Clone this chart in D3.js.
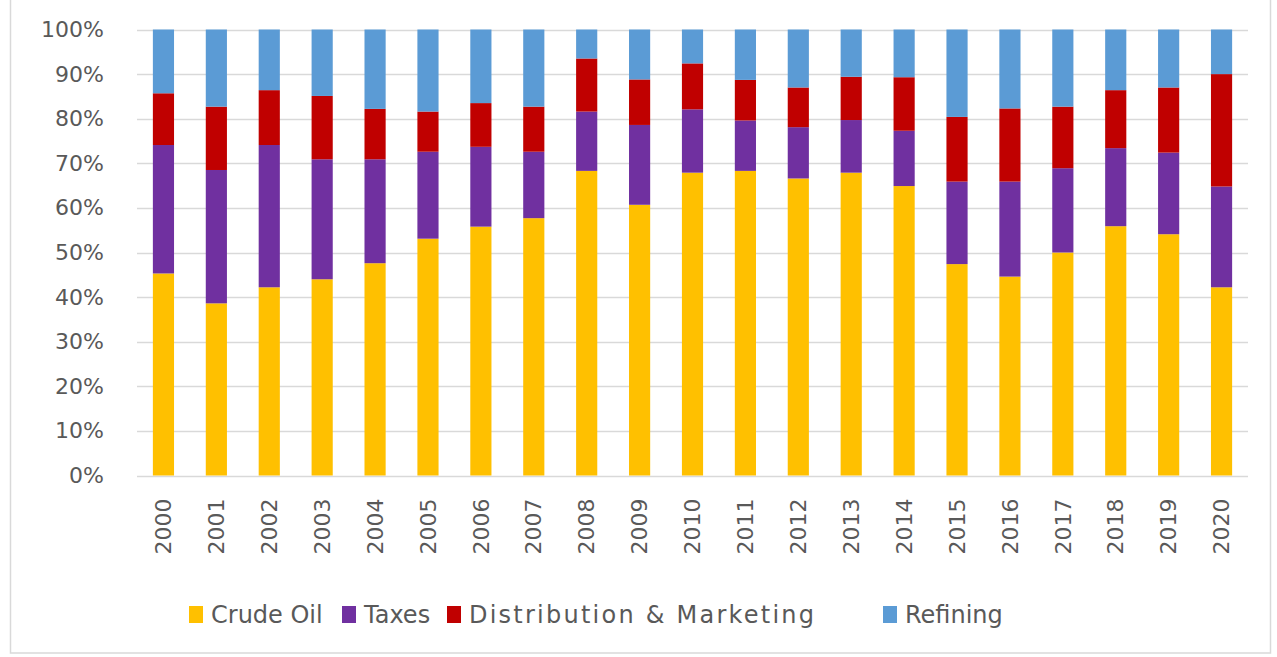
<!DOCTYPE html>
<html>
<head>
<meta charset="utf-8">
<script src="https://cdn.jsdelivr.net/npm/d3@7"></script>
<style>
  html, body { margin: 0; padding: 0; background: #ffffff; }
  svg { display: block; }
</style>
</head>
<body>
<svg id="chart" width="1277" height="657"></svg>
<script>
const years = ["2000","2001","2002","2003","2004","2005","2006","2007","2008","2009","2010",
               "2011","2012","2013","2014","2015","2016","2017","2018","2019","2020"];
const crudeOil     = [45.3,38.6,42.2,44.0,47.6,53.1,55.8,57.7,68.3,60.7,67.9,68.3,66.6,67.9,64.9,47.4,44.6,50.0,55.9,54.1,42.2];
const taxes        = [28.8,29.9,31.9,26.9,23.3,19.5,17.9,14.9,13.3,17.9,14.2,11.3,11.5,11.8,12.4,18.5,21.3,18.9,17.5,18.3,22.6];
const distribution = [11.6,14.2,12.3,14.2,11.3, 9.0, 9.8,10.1,11.9,10.2,10.3, 9.1, 8.9, 9.7,12.0,14.5,16.4,13.8,13.0,14.6,25.2];
const refining     = [14.3,17.3,13.6,14.9,17.8,18.4,16.5,17.3, 6.5,11.2, 7.6,11.3,13.0,10.6,10.7,19.6,17.7,17.3,13.6,13.0,10.0];
const seriesNames  = ["Crude Oil","Taxes","Distribution & Marketing","Refining"];
const seriesColors = ["#FFC000","#7030A0","#C00000","#5B9BD5"];
const yTicks       = [0,10,20,30,40,50,60,70,80,90,100];

const rows = years.map((y, i) => ({
  year: y,
  "Crude Oil": crudeOil[i],
  "Taxes": taxes[i],
  "Distribution & Marketing": distribution[i],
  "Refining": refining[i]
}));

const svg = d3.select("#chart");
const font = "'DejaVu Sans', sans-serif";
const textColor = "#595959";

// outer border
svg.append("rect")
  .attr("x", 10.5).attr("y", -1).attr("width", 1260).attr("height", 654)
  .attr("fill", "none").attr("stroke", "#d9d9d9").attr("stroke-width", 1.5);

const plot = { left: 137, right: 1248, top: 29.5, bottom: 475.5 };

const x = d3.scaleBand().domain(years).range([plot.left, plot.right]).paddingInner(0.6).paddingOuter(0.3);
const y = d3.scaleLinear().domain([0, 100]).range([plot.bottom, plot.top]);

// gridlines
svg.append("g").selectAll("line").data(yTicks).join("line")
  .attr("x1", plot.left).attr("x2", plot.right)
  .attr("y1", d => Math.round(y(d)) + 0.5).attr("y2", d => Math.round(y(d)) + 0.5)
  .attr("stroke", "#d9d9d9").attr("stroke-width", 1.5);

// y axis labels
const yAxis = d3.axisLeft(y).tickValues(yTicks).tickFormat(d => d + "%").tickSize(0).tickPadding(0);
const gy = svg.append("g").attr("transform", `translate(104,0)`).call(yAxis);
gy.select(".domain").remove();
gy.selectAll("text").attr("font-family", font).attr("font-size", 22).attr("fill", textColor);

// stacks
const stack = d3.stack().keys(seriesNames);
const stacked = stack(rows);

svg.append("g").selectAll("g").data(stacked).join("g")
  .attr("fill", (d, i) => seriesColors[i])
  .selectAll("rect").data(d => d).join("rect")
  .attr("x", d => x(d.data.year))
  .attr("width", x.bandwidth())
  .attr("y", d => y(d[1]))
  .attr("height", d => y(d[0]) - y(d[1]));

// x axis labels (rotated)
const xAxis = d3.axisBottom(x).tickSize(0).tickPadding(0);
const gx = svg.append("g").attr("transform", `translate(0,${plot.bottom})`).call(xAxis);
gx.select(".domain").remove();
gx.selectAll("text")
  .attr("font-family", font).attr("font-size", 22).attr("fill", textColor)
  .attr("transform", "rotate(-90)")
  .attr("text-anchor", "end")
  .attr("x", -23).attr("y", 0).attr("dy", "0.35em");

// legend
const legendX = [189, 342, 447, 883];
const legendY = 615;
const lg = svg.append("g").selectAll("g").data(seriesNames).join("g")
  .attr("transform", (d, i) => `translate(${legendX[i]},${legendY})`);
lg.append("rect").attr("x", 0).attr("y", -9).attr("width", 14).attr("height", 17)
  .attr("fill", (d, i) => seriesColors[i]);
lg.append("text").attr("x", 22).attr("y", 0).attr("dy", "0.35em")
  .attr("font-family", font).attr("font-size", 24).attr("fill", textColor)
  .each(function(d) { if (d === "Distribution & Marketing") d3.select(this).attr("textLength", 345).attr("lengthAdjust", "spacing"); })
  .text(d => d);
</script>
</body>
</html>
